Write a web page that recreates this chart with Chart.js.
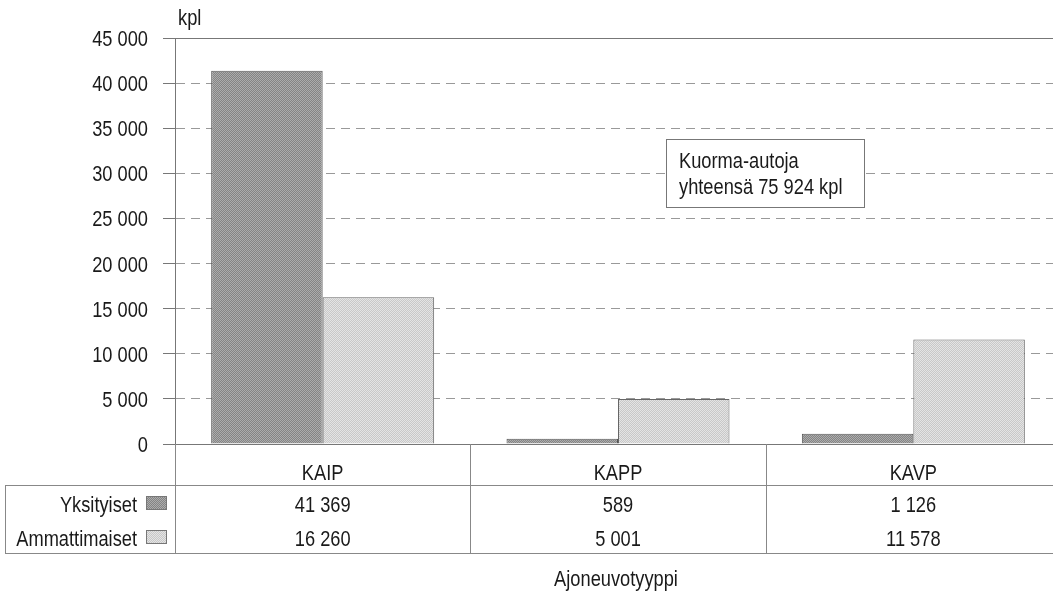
<!DOCTYPE html>
<html>
<head>
<meta charset="utf-8">
<script src="https://cdn.jsdelivr.net/npm/chart.js@4.4.1/dist/chart.umd.min.js"></script>
<style>
  html, body { margin: 0; padding: 0; background: #fff; overflow: hidden; width: 1053px; height: 597px; }
  #wrap { width: 1053px; height: 597px; position: relative; overflow: hidden; }
  #c { position: absolute; left: 0; top: 0; }
</style>
</head>
<body>
<div id="wrap"><canvas id="c" width="1061" height="597"></canvas></div>
<script>
const categories = ['KAIP', 'KAPP', 'KAVP'];
const seriesNames = ['Yksityiset', 'Ammattimaiset'];
const yksityiset = [41369, 589, 1126];
const ammattimaiset = [16260, 5001, 11578];
const yMax = 45000;
const yStep = 5000;
const unitLabel = 'kpl';
const axisTitle = 'Ajoneuvotyyppi';
const noteLines = ['Kuorma-autoja', 'yhteensä 75 924 kpl'];

const FONT = "'Liberation Sans', Arial, sans-serif";
const FSIZE = 22;
const NARROW = 0.83;
const TEXT = '#1a1a1a';

function fmt(n) { return String(n).replace(/\B(?=(\d{3})+(?!\d))/g, ' '); }

function txt(ctx, s, x, y, align) {
  ctx.save();
  ctx.translate(x, y);
  ctx.scale(NARROW, 1);
  ctx.font = FSIZE + 'px ' + FONT;
  ctx.textAlign = align;
  ctx.textBaseline = 'alphabetic';
  ctx.fillStyle = TEXT;
  ctx.fillText(s, 0, 0);
  ctx.restore();
}

function makePattern(c1, c2) {
  const pc = document.createElement('canvas');
  pc.width = 2; pc.height = 2;
  const p = pc.getContext('2d');
  p.fillStyle = c1; p.fillRect(0, 0, 2, 2);
  p.fillStyle = c2; p.fillRect(0, 0, 1, 1); p.fillRect(1, 1, 1, 1);
  return document.getElementById('c').getContext('2d').createPattern(pc, 'repeat');
}
const darkFill = makePattern('#848484', '#acacac');
const lightFill = makePattern('#c8c8c8', '#e4e4e4');
const fills = [darkFill, lightFill];

const ticksVals = [];
for (let v = 0; v <= yMax; v += yStep) ticksVals.push(v);

const tablePlugin = {
  id: 'tablePlugin',
  afterDraw(chart) {
    const ctx = chart.ctx;
    const xs = chart.scales.x;
    const ys = chart.scales.y;
    const ca = chart.chartArea;
    const W = chart.width;
    const zeroY = ys.getPixelForValue(0);
    const topY = ys.getPixelForValue(yMax);
    const headBottom = zeroY + 41;
    const row1Bottom = headBottom + 34;
    const tableBottom = row1Bottom + 34;
    const tableLeft = 5;
    ctx.save();
    // y tick labels
    ticksVals.forEach(v => {
      txt(ctx, fmt(v), ca.left - 27, ys.getPixelForValue(v) + 8, 'right');
    });
    // solid top and zero lines
    ctx.strokeStyle = '#777';
    ctx.lineWidth = 1;
    ctx.beginPath();
    ctx.moveTo(ca.left - 12, Math.round(topY) + 0.5); ctx.lineTo(W, Math.round(topY) + 0.5);
    ctx.moveTo(ca.left - 12, Math.round(zeroY) + 0.5); ctx.lineTo(W, Math.round(zeroY) + 0.5);
    ctx.stroke();
    // table lines
    ctx.strokeStyle = '#888';
    ctx.beginPath();
    ctx.moveTo(tableLeft, Math.round(headBottom) + 0.5); ctx.lineTo(W, Math.round(headBottom) + 0.5);
    ctx.moveTo(tableLeft, Math.round(tableBottom) + 0.5); ctx.lineTo(W, Math.round(tableBottom) + 0.5);
    ctx.moveTo(tableLeft + 0.5, headBottom); ctx.lineTo(tableLeft + 0.5, tableBottom);
    ctx.moveTo(Math.round(ca.left) + 0.5, zeroY); ctx.lineTo(Math.round(ca.left) + 0.5, tableBottom);
    const catW = (ca.right - ca.left) / categories.length;
    for (let i = 1; i < categories.length; i++) {
      const bx = Math.round((xs.getPixelForValue(i - 1) + xs.getPixelForValue(i)) / 2) + 0.5;
      ctx.moveTo(bx, zeroY); ctx.lineTo(bx, tableBottom);
    }
    ctx.stroke();
    // table texts
    const seriesData = [yksityiset, ammattimaiset];
    categories.forEach((c, i) => {
      const cx = xs.getPixelForValue(i);
      txt(ctx, c, cx, headBottom - 5, 'center');
      txt(ctx, fmt(seriesData[0][i]), cx, row1Bottom - 7, 'center');
      txt(ctx, fmt(seriesData[1][i]), cx, tableBottom - 7, 'center');
    });
    // legend
    const rowsBase = [row1Bottom - 7, tableBottom - 7];
    seriesNames.forEach((s, k) => {
      txt(ctx, s, ca.left - 38, rowsBase[k], 'right');
      const sx = ca.left - 29, sy = rowsBase[k] - 16, sw = 20, sh = 13;
      ctx.fillStyle = fills[k];
      ctx.fillRect(sx, sy, sw, sh);
      ctx.strokeStyle = '#777';
      ctx.strokeRect(sx + 0.5, sy + 0.5, sw, sh);
    });
    // unit label
    txt(ctx, unitLabel, ca.left + 3, topY - 13, 'left');
    // axis title
    txt(ctx, axisTitle, (ca.left + ca.right) / 2 - 2, tableBottom + 33, 'center');
    // note box
    const bx0 = Math.round(xs.getPixelForValue(1) + 0.163 * catW);
    const by0 = Math.round(ys.getPixelForValue(33800));
    const bw = 198, bh = 68;
    ctx.fillStyle = '#fff';
    ctx.fillRect(bx0, by0, bw, bh);
    ctx.strokeStyle = '#777';
    ctx.strokeRect(bx0 + 0.5, by0 + 0.5, bw, bh);
    txt(ctx, noteLines[0], bx0 + 13, by0 + 29, 'left');
    txt(ctx, noteLines[1], bx0 + 13, by0 + 55, 'left');
    ctx.restore();
  }
};

new Chart(document.getElementById('c'), {
  type: 'bar',
  data: {
    labels: categories,
    datasets: [
      { label: seriesNames[0], data: yksityiset, backgroundColor: darkFill, borderColor: '#555', borderWidth: 1 },
      { label: seriesNames[1], data: ammattimaiset, backgroundColor: lightFill, borderColor: '#666', borderWidth: 1 }
    ]
  },
  options: {
    responsive: false,
    animation: false,
    layout: { padding: { left: 0, right: 0, top: 38, bottom: 153 } },
    plugins: { legend: { display: false }, tooltip: { enabled: false } },
    datasets: { bar: { barPercentage: 1, categoryPercentage: 0.755 } },
    scales: {
      x: { display: false, offset: true },
      y: {
        min: 0, max: yMax,
        afterFit(scale) { scale.width = 175; },
        afterBuildTicks(scale) { scale.ticks = ticksVals.map(v => ({ value: v })); },
        ticks: { display: false },
        grid: {
          color: ctx => (ctx.tick && (ctx.tick.value === 0 || ctx.tick.value === yMax)) ? 'rgba(0,0,0,0)' : '#999',
          tickColor: '#777',
          tickLength: 12,
          lineWidth: 1
        },
        border: { display: true, color: '#777', dash: [9, 6] }
      }
    }
  },
  plugins: [tablePlugin]
});
</script>
</body>
</html>
